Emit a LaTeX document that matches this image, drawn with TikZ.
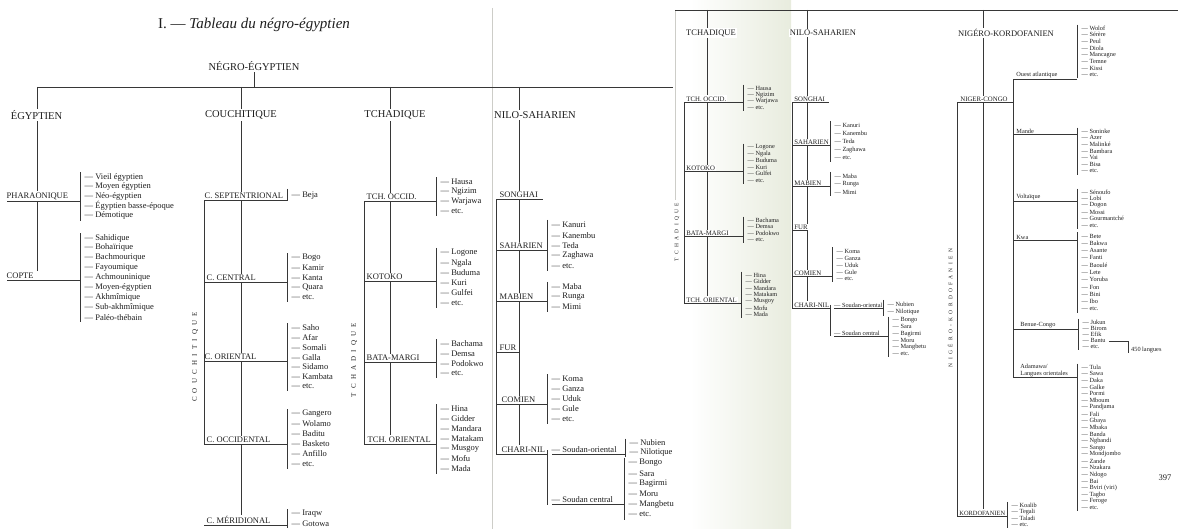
\documentclass[tikz,border=0pt]{standalone}
\usepackage{fontspec}
\setmainfont{Liberation Serif}
\newfontfamily\spacedfont[LetterSpace=60]{Liberation Serif}
\pgfdeclarelayer{bg}
\pgfsetlayers{bg,main}
\definecolor{ink}{RGB}{30,30,30}
\definecolor{rule}{RGB}{55,55,55}
\definecolor{fold}{RGB}{205,205,200}
\definecolor{gutter}{RGB}{232,236,222}
\tikzset{
  ttl/.style={font=\fontsize{15}{17}\selectfont, text=ink, inner sep=0pt},
  head/.style={font=\fontsize{10.5}{12}\selectfont, text=ink, fill=white, inner sep=1.5pt},
  lab/.style={font=\fontsize{8.5}{10}\selectfont, text=ink, fill=white, inner sep=1.5pt, anchor=west},
  itm/.style={font=\fontsize{8.5}{9}\selectfont, text=ink, inner sep=0pt, anchor=west},
  rhead/.style={font=\fontsize{8.5}{10}\selectfont, text=ink, fill=white, inner sep=1.2pt},
  rlab/.style={font=\fontsize{6.8}{7.5}\selectfont, text=ink, fill=white, inner sep=1.2pt, anchor=west},
  rsub/.style={font=\fontsize{6.3}{7}\selectfont, text=ink, fill=white, inner sep=1.2pt, anchor=west, align=left},
  ritm/.style={font=\fontsize{6.3}{7}\selectfont, text=ink, inner sep=0pt, anchor=west},
  ln/.style={draw=rule, line width=0.6pt},
  vlab/.style={text=ink, rotate=90, inner sep=0pt},
}
% list of languages: name, style, bracket x, first y, step, items
\newcommand\langlist[6]{%
  \foreach \lname [count=\i] in {#6} {%
    \node[#2] (#1-\i) at ({#3+4.5}, {#4+(\i-1)*#5}) {— \lname};
    \draw[ln] ({#3}, {#4+(\i-1.5)*#5}) -- ({#3}, {#4+(\i-0.5)*#5});
  }%
}
% underline of a label from x #1 to x #2
\newcommand\ulab[3]{\draw[ln] (#1,0 |- #3.south) -- (#2,0 |- #3.south);}

\begin{document}
\begin{tikzpicture}[x=1pt,y=-1pt]
\useasboundingbox (0,0) rectangle (1178,529);
\begin{pgfonlayer}{bg}
\fill[white] (0,0) rectangle (1178,529);
\shade[left color=white, right color=gutter] (690,0) rectangle (791,529);
\draw[fold, line width=0.6pt] (492,8) -- (492,529);
\draw[fold, line width=0.6pt] (675,10) -- (675,200);
\end{pgfonlayer}

%================ LEFT PAGE ================
\node[ttl] (title) at (254,25) {I. — \textit{Tableau du négro-égyptien}};
\node[head] (ne) at (254,66) {NÉGRO-ÉGYPTIEN};
\coordinate (topL) at (37.5,87);
\coordinate (topR) at (673,87);
\draw[ln] (topL) -- (topR);
\draw[ln] (ne.south) -- (ne.south |- topL);

\node[head] (eg) at (36.5,115) {ÉGYPTIEN};
\node[head] (cou) at (241,115) {COUCHITIQUE};
\node[head] (tch) at (395,115) {TCHADIQUE};
\node[head] (nil) at (535,115) {NILO-SAHARIEN};

% Egyptien
\node[lab] (pha) at (5,196) {PHARAONIQUE};
\node[lab] (cop) at (5,276) {COPTE};
\begin{pgfonlayer}{bg}
\draw[ln] (37.5,87) -- (37.5,0 |- cop.north);
\end{pgfonlayer}
\ulab{7}{80}{pha}
\ulab{7}{80}{cop}
\langlist{phal}{itm}{80}{177}{9.7}{Vieil égyptien, Moyen égyptien, Néo-égyptien, Égyptien basse-époque, Démotique}
\langlist{copl}{itm}{80}{238}{9.9}{Sahidique, Bohaïrique, Bachmourique, Fayoumique, Achmouninique, Moyen-égyptien, Akhmîmique, Sub-akhmîmique, Paléo-thébain}

% Couchitique
\node[lab] (csep) at (203,196) {C. SEPTENTRIONAL};
\node[lab] (ccen) at (205,278) {C. CENTRAL};
\node[lab] (cori) at (203,357) {C. ORIENTAL};
\node[lab] (cocc) at (205,440) {C. OCCIDENTAL};
\node[lab] (cmer) at (205,520) {C. MÉRIDIONAL};
\begin{pgfonlayer}{bg}
\draw[ln] (241,87) -- (241,0 |- cmer.north);
\end{pgfonlayer}
\draw[ln] (204,0 |- csep.south) -- (204,0 |- cocc.south);
\ulab{204}{287}{csep}
\ulab{204}{287}{ccen}
\ulab{204}{287}{cori}
\ulab{204}{287}{cocc}
\ulab{204}{287}{cmer}
\draw[ln] (287,189) -- (287,0 |- csep.south);
\node[itm] (beja) at (291.5,196) {— Beja};
\langlist{cenl}{itm}{287}{258}{9.7}{Bogo, Kamir, Kanta, Quara, etc.}
\langlist{oril}{itm}{287}{328}{9.7}{Saho, Afar, Somali, Galla, Sidamo, Kambata, etc.}
\langlist{occl}{itm}{287}{414}{10}{Gangero, Wolamo, Baditu, Basketo, Anfillo, etc.}
\langlist{merl}{itm}{287}{514}{9.5}{Iraqw, Gotowa}
\node[vlab, font=\spacedfont\fontsize{7}{8}\selectfont] (vcou) at (195,357) {COUCHITIQUE};

% Tchadique
\node[lab] (toc) at (365,197) {TCH. OCCID.};
\node[lab] (kot) at (365,277) {KOTOKO};
\node[lab] (bat) at (365,358) {BATA-MARGI};
\node[lab] (tor) at (366,440) {TCH. ORIENTAL};
\begin{pgfonlayer}{bg}
\draw[ln] (390,87) -- (390,0 |- tor.north);
\end{pgfonlayer}
\draw[ln] (364,0 |- toc.south) -- (364,0 |- tor.south);
\ulab{364}{436}{toc}
\ulab{364}{436}{kot}
\ulab{364}{436}{bat}
\ulab{364}{436}{tor}
\langlist{tocl}{itm}{436}{182}{9.7}{Hausa, Ngizim, Warjawa, etc.}
\langlist{kotl}{itm}{436}{253}{10}{Logone, Ngala, Buduma, Kuri, Gulfei, etc.}
\langlist{batl}{itm}{436}{344}{9.7}{Bachama, Demsa, Podokwo, etc.}
\langlist{torl}{itm}{436}{409}{10}{Hina, Gidder, Mandara, Matakam, Musgoy, Mofu, Mada}
\node[vlab, font=\spacedfont\fontsize{7}{8}\selectfont] (vtch) at (354,360) {TCHADIQUE};

% Nilo-saharien
\node[lab] (son) at (498,195) {SONGHAI};
\node[lab] (sah) at (498,246) {SAHARIEN};
\node[lab] (mab) at (498,297) {MABIEN};
\node[lab] (fur) at (498,348) {FUR};
\node[lab] (com) at (500,400) {COMIEN};
\node[lab] (cha) at (500,450) {CHARI-NIL};
\begin{pgfonlayer}{bg}
\draw[ln] (519,87) -- (519,0 |- cha.north);
\end{pgfonlayer}
\draw[ln] (496,0 |- son.south) -- (496,0 |- cha.south);
\ulab{496}{543}{son}
\ulab{496}{547}{sah}
\ulab{496}{547}{mab}
\ulab{496}{520}{fur}
\ulab{496}{547}{com}
\ulab{496}{547}{cha}
\langlist{sahl}{itm}{547}{225}{10.2}{Kanuri, Kanembu, Teda, Zaghawa, etc.}
\langlist{mabl}{itm}{547}{287}{10}{Maba, Runga, Mimi}
\langlist{coml}{itm}{547}{379}{10}{Koma, Ganza, Uduk, Gule, etc.}
\node[itm, inner sep=1.5pt] (sor) at (550,450) {— Soudan-oriental};
\node[itm, inner sep=1.5pt] (sce) at (550,500) {— Soudan central};
\draw[ln] (547,0 |- cha.center) -- (547,0 |- sce.south);
\ulab{552}{625}{sor}
\ulab{552}{624}{sce}
\langlist{nubl}{itm}{625}{443}{9}{Nubien, Nilotique}
\langlist{cenl2}{itm}{624}{463}{10.3}{Bongo, Sara, Bagirmi, Moru, Mangbetu, etc.}

%================ RIGHT PAGE ================
\coordinate (rtopL) at (675,10);
\coordinate (rtopR) at (1178,10);
\draw[ln] (rtopL) -- (rtopR);
\node[rhead] (rtch) at (711,33) {TCHADIQUE};
\node[rhead] (rnil) at (823,33) {NILO-SAHARIEN};
\node[rhead] (rnk) at (1006,33) {NIGÉRO-KORDOFANIEN};

% Tchadique (right)
\node[rlab] (rtoc) at (685,99) {TCH. OCCID.};
\node[rlab] (rkot) at (685,168) {KOTOKO};
\node[rlab] (rbat) at (685,233) {BATA-MARGI};
\node[rlab] (rtor) at (685,300) {TCH. ORIENTAL};
\begin{pgfonlayer}{bg}
\draw[ln] (707,10) -- (707,0 |- rtor.north);
\end{pgfonlayer}
\draw[ln] (684,0 |- rtoc.south) -- (684,0 |- rtor.south);
\ulab{684}{743}{rtoc}
\ulab{684}{743}{rkot}
\ulab{684}{743}{rbat}
\ulab{684}{741}{rtor}
\langlist{rtocl}{ritm}{743}{88}{6.7}{Hausa, Ngizim, Warjawa, etc.}
\langlist{rkotl}{ritm}{743}{147}{6.7}{Logone, Ngala, Buduma, Kuri, Gulfei, etc.}
\langlist{rbatl}{ritm}{743}{220}{6.7}{Bachama, Demsa, Podokwo, etc.}
\langlist{rtorl}{ritm}{741}{275}{6.6}{Hina, Gidder, Mandara, Matakam, Musgoy, Mofu, Mada}
\node[vlab, font=\spacedfont\fontsize{5.5}{6}\selectfont] (rvtch) at (677,232) {TCHADIQUE};

% Nilo-saharien (right)
\node[rlab] (rson) at (793,99) {SONGHAI};
\node[rlab] (rsah) at (793,142) {SAHARIEN};
\node[rlab] (rmab) at (793,183) {MABIEN};
\node[rlab] (rfur) at (793,227) {FUR};
\node[rlab] (rcom) at (793,273) {COMIEN};
\node[rlab] (rcha) at (793,305) {CHARI-NIL};
\begin{pgfonlayer}{bg}
\draw[ln] (807,10) -- (807,0 |- rcha.north);
\end{pgfonlayer}
\draw[ln] (792,0 |- rson.south) -- (792,0 |- rcha.south);
\ulab{792}{829}{rson}
\ulab{792}{830}{rsah}
\ulab{792}{830}{rmab}
\ulab{792}{807}{rfur}
\ulab{792}{832}{rcom}
\ulab{792}{830}{rcha}
\langlist{rsahl}{ritm}{830}{125}{8.2}{Kanuri, Kanembu, Teda, Zaghawa, etc.}
\langlist{rmabl}{ritm}{830}{176}{8}{Maba, Runga, Mimi}
\langlist{rcoml}{ritm}{832}{251}{7}{Koma, Ganza, Uduk, Gule, etc.}
\node[ritm, inner sep=1pt] (rsor) at (833,305) {— Soudan-oriental};
\node[ritm, inner sep=1pt] (rsce) at (833,333) {— Soudan central};
\draw[ln] (830,0 |- rcha.center) -- (830,0 |- rsce.south);
\ulab{834}{883}{rsor}
\ulab{834}{888}{rsce}
\langlist{rnubl}{ritm}{883}{304}{8}{Nubien, Nilotique}
\langlist{rcenl}{ritm}{888}{320}{6.8}{Bongo, Sara, Bagirmi, Moru, Mangbetu, etc.}

% Nigero-kordofanien
\node[rlab] (nc) at (959,99) {NIGER-CONGO};
\node[rlab, font=\fontsize{6.4}{7}\selectfont] (kor) at (958,513) {KORDOFANIEN};
\begin{pgfonlayer}{bg}
\draw[ln] (983,10) -- (983,0 |- kor.north);
\end{pgfonlayer}
\draw[ln] (957,0 |- nc.south) -- (957,0 |- kor.south);
\ulab{957}{1013}{nc}
\ulab{957}{1007}{kor}
\langlist{korl}{ritm}{1007}{505}{6.5}{Koalib, Tegali, Taladi, etc.}
\node[vlab, font=\spacedfont\fontsize{5.5}{6}\selectfont] (vnk) at (950,308) {NIGÉRO-KORDOFANIEN};

\node[rsub] (oua) at (1015,75) {Ouest atlantique};
\node[rsub] (man) at (1015,131) {Mande};
\node[rsub] (vol) at (1015,197) {Voltaïque};
\node[rsub] (kwa) at (1015,237) {Kwa};
\node[rsub] (ben) at (1019,325) {Benue-Congo};
\node[rsub] (ada) at (1019,370) {Adamawa/\\Langues orientales};
\draw[ln] (1013,0 |- oua.south) -- (1013,0 |- ada.south);
\ulab{1013}{1077}{oua}
\ulab{1013}{1077}{man}
\ulab{1013}{1077}{vol}
\ulab{1013}{1077}{kwa}
\ulab{1013}{1078}{ben}
\ulab{1013}{1077}{ada}
\langlist{oual}{ritm}{1077}{28}{6.7}{Wolof, Sérère, Peul, Diola, Mancagne, Temne, Kissi, etc.}
\langlist{manl}{ritm}{1077}{131}{6.7}{Soninke, Azer, Malinké, Bambara, Vai, Bisa, etc.}
\langlist{voll}{ritm}{1077}{192}{6.7}{Sénoufo, Lobi, Dogon, Mossi, Gourmantché, etc.}
\langlist{kwal}{ritm}{1077}{236}{7.3}{Bete, Bakwa, Asante, Fanti, Baoulé, Lete, Yoruba, Fon, Bini, Ibo, etc.}
\langlist{benl}{ritm}{1078}{322}{6.3}{Jukun, Birom, Efik, Bantu, etc.}
\langlist{adal}{ritm}{1077}{367}{6.72}{Tula, Sawa, Daka, Galke, Pormi, Mboum, Pandjama, Fali, Gbaya, Mbaka, Banda, Ngbandi, Sango, Mondjombo, Zande, Nzakara, Ndogo, Bai, Bviri (viri), Tagbo, Feroge, etc.}
\node[ritm] (lang) at (1131,350) {450 langues};
\draw[ln] ([xshift=3pt]benl-4.east) -- (1128,0 |- benl-4.east) -- (1128,0 |- lang.south);
\node[font=\fontsize{8.5}{10}\selectfont, text=ink] (pg) at (1165,478) {397};
\end{tikzpicture}
\end{document}
